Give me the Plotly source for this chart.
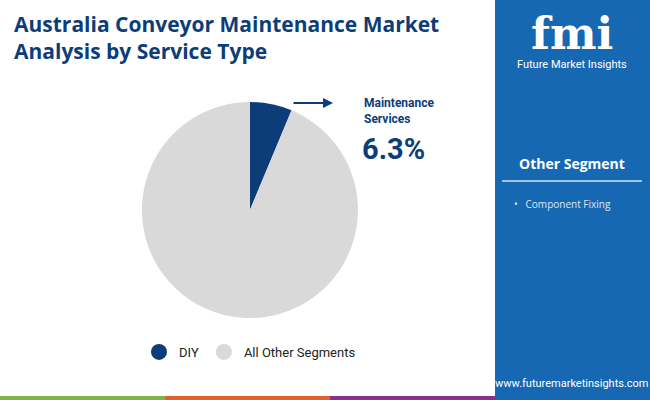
import plotly.graph_objects as go

labels = ["DIY", "All Other Segments"]
values = [6.3, 93.7]
colors = ["#0d3d78", "#d9d9d9"]
other_segments = ["Component Fixing"]

fig = go.Figure()
fig.add_trace(go.Pie(labels=labels, values=values, marker=dict(colors=colors),
                     sort=False, direction="clockwise", rotation=0, textinfo="none",
                     hoverinfo="label+percent", showlegend=False,
                     domain=dict(x=[0.218, 0.551], y=[0.205, 0.745])))
for l, c in zip(labels, colors):
    fig.add_trace(go.Scatter(x=[None], y=[None], mode="markers", name=l,
                             marker=dict(color=c, size=18, symbol="circle")))

W, H = 650, 400
def px(x): return x / W
def py(y): return 1 - y / H

shapes = [
    dict(type="rect", xref="paper", yref="paper", x0=px(495), x1=1, y0=0, y1=1,
         fillcolor="#1768b2", line_width=0, layer="below"),
    dict(type="line", xref="paper", yref="paper", x0=px(502), x1=px(642), y0=py(181), y1=py(181),
         line=dict(color="#9cc3e6", width=2)),
    dict(type="rect", xref="paper", yref="paper", x0=0, x1=px(165), y0=0, y1=py(396),
         fillcolor="#7cb342", line_width=0),
    dict(type="rect", xref="paper", yref="paper", x0=px(165), x1=px(330), y0=0, y1=py(396),
         fillcolor="#e4602a", line_width=0),
    dict(type="rect", xref="paper", yref="paper", x0=px(330), x1=px(495), y0=0, y1=py(396),
         fillcolor="#8a2f8c", line_width=0),
]

ann = [
    dict(text="<b>Australia Conveyor Maintenance Market<br>Analysis by Service Type</b>",
         x=px(12), y=py(8), xanchor="left", yanchor="top", align="left",
         font=dict(family="Open Sans", size=21, color="#0d3d78")),
    dict(text="<b>Maintenance<br>Services</b>", x=px(362), y=py(94), xanchor="left", yanchor="top",
         align="left", font=dict(family="Roboto", size=12, color="#0d3d78")),
    dict(text="<b>6.3%</b>", x=px(360), y=py(149), xanchor="left", yanchor="middle",
         font=dict(family="Roboto", size=29, color="#0d3d78")),
    dict(text="<b>fmi</b>", x=px(572), y=py(33), xanchor="center", yanchor="middle",
         font=dict(family="DejaVu Serif", size=44, color="white")),
    dict(text="Future Market Insights", x=px(572), y=py(64), xanchor="center", yanchor="middle",
         font=dict(family="Roboto", size=11, color="white")),
    dict(text="<b>Other Segment</b>", x=px(572), y=py(164), xanchor="center", yanchor="middle",
         font=dict(family="Open Sans", size=14, color="white")),
    dict(text="www.futuremarketinsights.com", x=px(572), y=py(383), xanchor="center", yanchor="middle",
         font=dict(family="Roboto", size=11, color="white")),
]
for i, s in enumerate(other_segments):
    ann.append(dict(text="•   " + s, x=px(512), y=py(204 + 18 * i), xanchor="left", yanchor="middle",
                    font=dict(family="Open Sans", size=10, color="#dce9f6")))

ann.append(dict(x=px(333), y=py(103), ax=-41, ay=0, showarrow=True, arrowhead=2, arrowsize=1,
                arrowwidth=2, arrowcolor="#0d3d78", text=""))
for a in ann:
    a.setdefault("xref", "paper"); a.setdefault("yref", "paper"); a.setdefault("showarrow", False)

fig.update_layout(
    width=W, height=H, margin=dict(l=0, r=0, t=0, b=0),
    paper_bgcolor="white", plot_bgcolor="rgba(0,0,0,0)",
    xaxis=dict(visible=False), yaxis=dict(visible=False),
    shapes=shapes, annotations=ann,
    legend=dict(orientation="h", x=px(250), xanchor="center", y=py(352), yanchor="middle",
                font=dict(family="Roboto", size=13, color="#222"), bgcolor="rgba(0,0,0,0)",
                itemclick=False),
)
fig.write_html("out.html", config={"displayModeBar": False},
               post_script="document.body.style.margin='0';document.body.style.overflow='hidden';")
